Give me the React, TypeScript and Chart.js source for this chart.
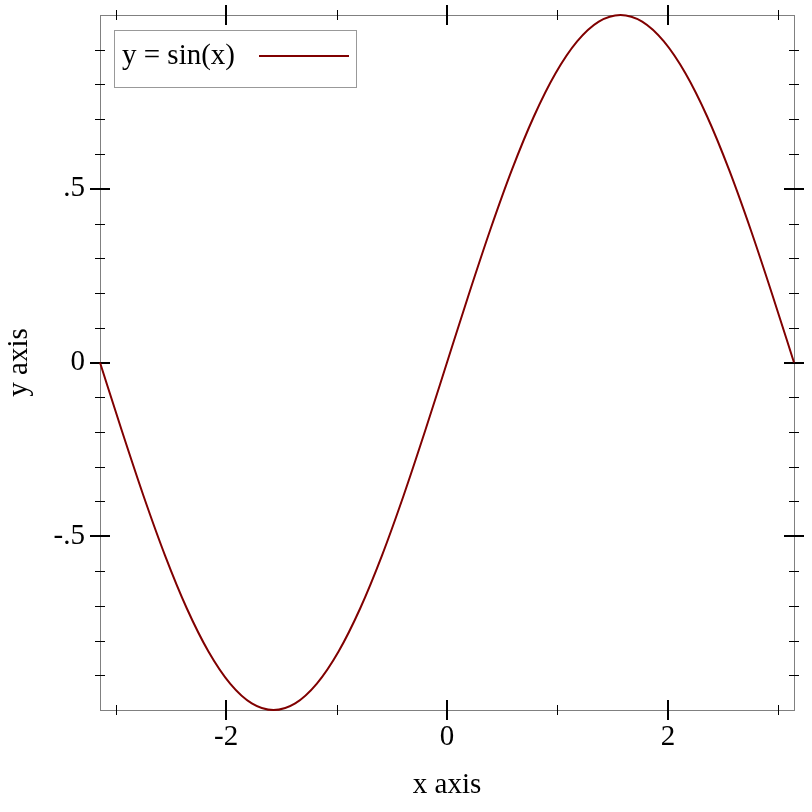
import React, { useEffect, useRef } from "react";
import { Chart, registerables } from "chart.js";

Chart.register(...registerables);

const xValues = [
  -3.1416, -2.9452, -2.7489, -2.5525, -2.3562, -2.1598, -1.9635, -1.7671, -1.5708,
  -1.3744, -1.1781, -0.9817, -0.7854, -0.589, -0.3927, -0.1963, 0, 0.1963, 0.3927,
  0.589, 0.7854, 0.9817, 1.1781, 1.3744, 1.5708, 1.7671, 1.9635, 2.1598, 2.3562,
  2.5525, 2.7489, 2.9452, 3.1416,
];
const yValues = [
  0, -0.1951, -0.3827, -0.5556, -0.7071, -0.8315, -0.9239, -0.9808, -1,
  -0.9808, -0.9239, -0.8315, -0.7071, -0.5556, -0.3827, -0.1951, 0, 0.1951, 0.3827,
  0.5556, 0.7071, 0.8315, 0.9239, 0.9808, 1, 0.9808, 0.9239, 0.8315, 0.7071,
  0.5556, 0.3827, 0.1951, 0,
];
const seriesLabel = "y = sin(x)";
const xMajorTicks = [-2, 0, 2];
const xMinorTicks = [-3, -1, 1, 3];
const yMajorTicks = [-0.5, 0, 0.5];
const yMinorTicks = [-0.9, -0.8, -0.7, -0.6, -0.4, -0.3, -0.2, -0.1, 0.1, 0.2, 0.3, 0.4, 0.6, 0.7, 0.8, 0.9];
const xRange = [-3.1416, 3.1416];
const yRange = [-1, 1];

const FONT = "'Liberation Serif', 'Times New Roman', serif";
const FONT_SIZE = 29;
const LINE_COLOR = "#800000";

const framePlugin = {
  id: "racketFrame",
  beforeDatasetsDraw(chart: any) {
    const { ctx, chartArea } = chart;
    const { left, right, top, bottom } = chartArea;
    const xs = chart.scales.x;
    const ys = chart.scales.y;
    ctx.save();
    ctx.strokeStyle = "#808080";
    ctx.lineWidth = 1;
    ctx.strokeRect(left + 0.5, top + 0.5, right - left, bottom - top);
    ctx.strokeStyle = "#000";
    const drawX = (vals: number[], half: number, w: number) => {
      ctx.lineWidth = w;
      vals.forEach((v) => {
        const px = Math.round(xs.getPixelForValue(v)) + (w % 2 ? 0.5 : 0);
        [top, bottom].forEach((yy) => {
          ctx.beginPath();
          ctx.moveTo(px, yy - half);
          ctx.lineTo(px, yy + half);
          ctx.stroke();
        });
      });
    };
    const drawY = (vals: number[], half: number, w: number) => {
      ctx.lineWidth = w;
      vals.forEach((v) => {
        const py = Math.round(ys.getPixelForValue(v)) + (w % 2 ? 0.5 : 0);
        [left, right].forEach((xx) => {
          ctx.beginPath();
          ctx.moveTo(xx - half, py);
          ctx.lineTo(xx + half, py);
          ctx.stroke();
        });
      });
    };
    drawX(xMinorTicks, 5, 1);
    drawY(yMinorTicks, 5, 1);
    drawX(xMajorTicks, 10, 2);
    drawY(yMajorTicks, 10, 2);
    ctx.restore();
  },
  afterDatasetsDraw(chart: any) {
    const { ctx, chartArea } = chart;
    const bx = chartArea.left + 14;
    const by = chartArea.top + 15;
    const bw = 242;
    const bh = 57;
    ctx.save();
    ctx.fillStyle = "#fff";
    ctx.fillRect(bx, by, bw, bh);
    ctx.strokeStyle = "#999";
    ctx.lineWidth = 1;
    ctx.strokeRect(bx + 0.5, by + 0.5, bw, bh);
    ctx.fillStyle = "#000";
    ctx.font = `${FONT_SIZE}px ${FONT}`;
    ctx.textAlign = "left";
    ctx.textBaseline = "middle";
    ctx.fillText(seriesLabel, bx + 8, by + bh / 2 - 2);
    ctx.strokeStyle = LINE_COLOR;
    ctx.lineWidth = 2;
    ctx.beginPath();
    ctx.moveTo(bx + 145, by + 26);
    ctx.lineTo(bx + 235, by + 26);
    ctx.stroke();
    ctx.restore();
  },
};

function fmtY(v: number): string {
  if (v === 0) return "0";
  return (v < 0 ? "-" : "") + String(Math.abs(v)).replace(/^0\./, ".");
}

export default function App() {
  const ref = useRef<HTMLCanvasElement>(null);
  useEffect(() => {
    document.body.style.margin = "0";
    const canvas = ref.current!;
    const chart = new Chart(canvas, {
      type: "line",
      data: {
        datasets: [
          {
            label: seriesLabel,
            data: xValues.map((x, i) => ({ x, y: yValues[i] })),
            borderColor: LINE_COLOR,
            borderWidth: 2,
            pointRadius: 0,
            cubicInterpolationMode: "monotone",
            fill: false,
            clip: false as any,
          },
        ],
      },
      options: {
        animation: false,
        responsive: false,
        devicePixelRatio: 1,
        layout: { padding: { top: 15, right: 18, left: 0, bottom: 0 } },
        plugins: { legend: { display: false }, tooltip: { enabled: false } },
        scales: {
          x: {
            type: "linear",
            min: xRange[0],
            max: xRange[1],
            grid: { display: false, drawTicks: false },
            border: { display: false },
            afterBuildTicks: (s: any) => {
              s.ticks = xMajorTicks.map((value) => ({ value }));
            },
            afterFit: (s: any) => {
              s.height = 102;
              s.paddingLeft = 0;
              s.paddingRight = 0;
            },
            ticks: {
              color: "#000",
              font: { family: FONT, size: FONT_SIZE },
              padding: 10,
              maxRotation: 0,
              callback: (v: any) => String(v),
            },
            title: {
              display: true,
              text: "x axis",
              color: "#000",
              font: { family: FONT, size: FONT_SIZE },
              padding: { top: 0, bottom: 9 },
            },
          },
          y: {
            type: "linear",
            min: yRange[0],
            max: yRange[1],
            grid: { display: false, drawTicks: false },
            border: { display: false },
            afterBuildTicks: (s: any) => {
              s.ticks = yMajorTicks.map((value) => ({ value }));
            },
            afterFit: (s: any) => {
              s.width = 100;
              s.paddingTop = 0;
              s.paddingBottom = 0;
            },
            ticks: {
              color: "#000",
              font: { family: FONT, size: FONT_SIZE },
              padding: 15,
              callback: (v: any) => fmtY(Number(v)),
            },
            title: {
              display: true,
              text: "y axis",
              color: "#000",
              font: { family: FONT, size: FONT_SIZE },
              padding: { top: 2, bottom: 0 },
            },
          },
        },
      },
      plugins: [framePlugin],
    } as any);
    return () => chart.destroy();
  }, []);
  return (
    <div style={{ width: 812, height: 812, background: "#fff" }}>
      <canvas ref={ref} width={812} height={812} style={{ display: "block" }} />
    </div>
  );
}
